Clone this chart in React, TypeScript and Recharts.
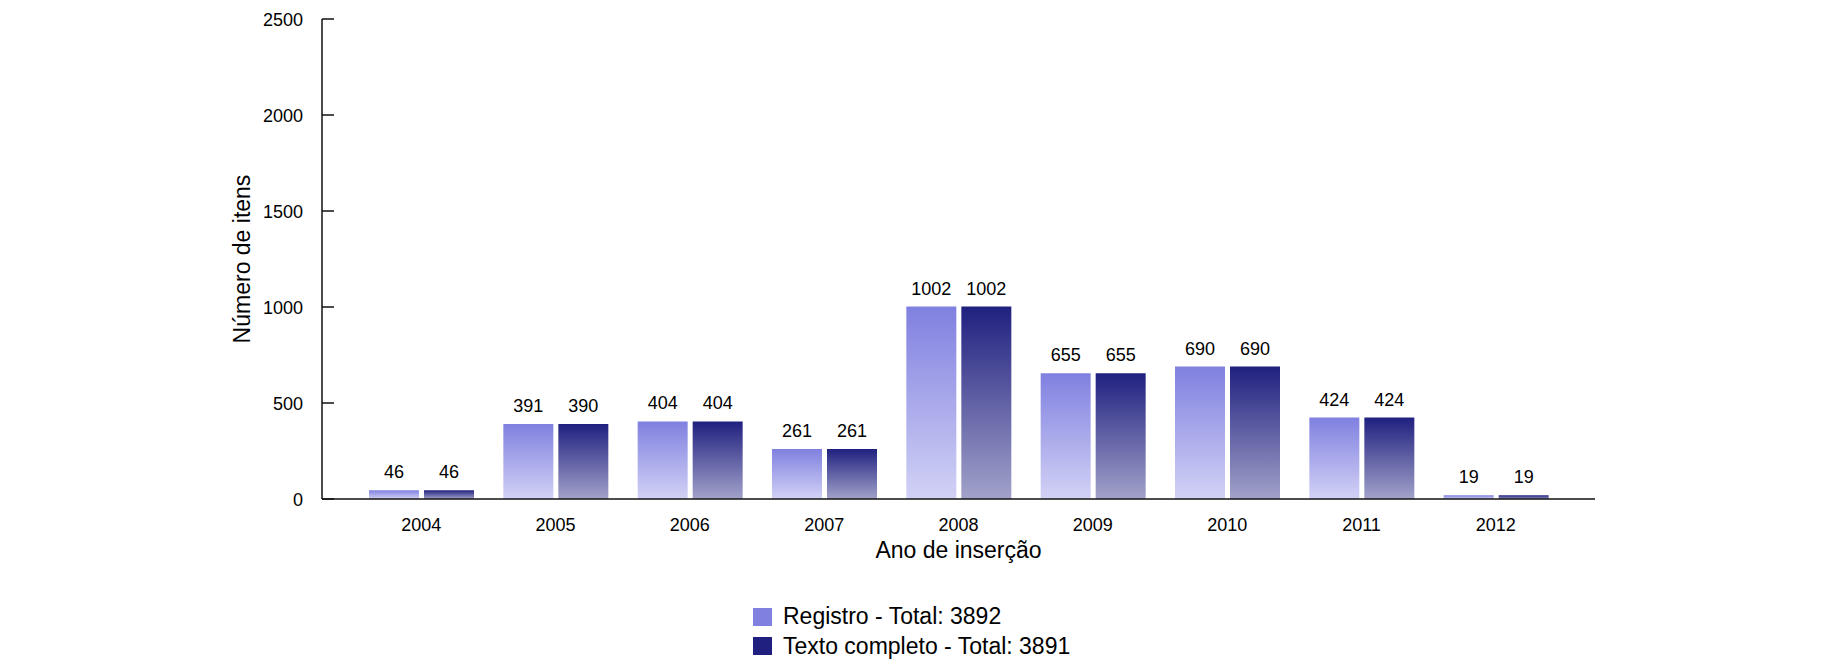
// Itens por ano de inserção — two gradient bar series (registro vs texto completo), gnuplot-ish styling.
import { Bar, BarChart, LabelList, Legend, XAxis, YAxis } from "recharts";

const YEARS = ["2004", "2005", "2006", "2007", "2008", "2009", "2010", "2011", "2012"];
const REGISTRO = [46, 391, 404, 261, 1002, 655, 690, 424, 19];
const TEXTO_COMPLETO = [46, 390, 404, 261, 1002, 655, 690, 424, 19];
const Y_TICKS = [0, 500, 1000, 1500, 2000, 2500];

const FONT = '"Liberation Sans", Arial, Helvetica, sans-serif';

const sum = (a: number[]) => a.reduce((s, v) => s + v, 0);

const SERIES = [
  { key: "registro", name: `Registro - Total: ${sum(REGISTRO)}`, top: "#8080e0", bottom: "#d2d2f6", swatch: "#8080e0" },
  { key: "texto", name: `Texto completo - Total: ${sum(TEXTO_COMPLETO)}`, top: "#202080", bottom: "#a2a2ca", swatch: "#202080" },
];

const data = YEARS.map((year, i) => ({ year, registro: REGISTRO[i], texto: TEXTO_COMPLETO[i] }));

function YTick({ x, y, payload }: any) {
  return (
    <g>
      <line x1={x} x2={x + 12} y1={y} y2={y} stroke="#111" strokeWidth={1.5} />
      <text x={x - 19} y={y + 7} textAnchor="end" fontSize={18} fontFamily={FONT} fill="#000">
        {payload.value}
      </text>
    </g>
  );
}

function XTick({ x, y, payload }: any) {
  return (
    <text x={x} y={y + 32} textAnchor="middle" fontSize={18} fontFamily={FONT} fill="#000">
      {payload.value}
    </text>
  );
}

function LegendBox() {
  return (
    <div style={{ fontFamily: FONT, fontSize: 23, color: "#000" }}>
      {SERIES.map((s) => (
        <div key={s.key} style={{ display: "flex", alignItems: "center", height: 29.5 }}>
          <span style={{ display: "inline-block", width: 19, height: 18, background: s.swatch, marginRight: 11 }} />
          <span style={{ lineHeight: "29.5px" }}>{s.name}</span>
        </div>
      ))}
    </div>
  );
}

export default function App() {
  return (
    <div style={{ position: "absolute", left: 0, top: 0, width: 1826, height: 671, background: "#fff" }}>
      <BarChart
        width={1826}
        height={671}
        data={data}
        margin={{ top: 19, right: 231, left: 0, bottom: 112 }}
        barCategoryGap={15}
        barGap={5}
      >
        <defs>
          {SERIES.map((s) => (
            <linearGradient key={s.key} id={`grad-${s.key}`} x1="0" y1="0" x2="0" y2="1">
              <stop offset="0%" stopColor={s.top} />
              <stop offset="100%" stopColor={s.bottom} />
            </linearGradient>
          ))}
        </defs>
        <XAxis
          dataKey="year"
          height={60}
          padding={{ left: 32, right: 32 }}
          tickLine={false}
          tickSize={0}
          tickMargin={0}
          tick={<XTick />}
          axisLine={{ stroke: "#111", strokeWidth: 1.5 }}
          label={({ viewBox }: any) => (
            <text
              x={viewBox.x + viewBox.width / 2}
              y={558}
              textAnchor="middle"
              fontSize={23}
              fontFamily={FONT}
              fill="#000"
            >
              Ano de inserção
            </text>
          )}
        />
        <YAxis
          width={322}
          domain={[0, 2500]}
          ticks={Y_TICKS}
          interval={0}
          tickLine={false}
          tickSize={0}
          tickMargin={0}
          tick={<YTick />}
          axisLine={{ stroke: "#111", strokeWidth: 1.5 }}
          label={({ viewBox }: any) => (
            <text
              transform={`translate(242, ${viewBox.y + viewBox.height / 2}) rotate(-90)`}
              textAnchor="middle"
              dominantBaseline="central"
              fontSize={23}
              fontFamily={FONT}
              fill="#000"
            >
              Número de itens
            </text>
          )}
        />
        <Legend
          layout="vertical"
          align="center"
          verticalAlign="middle"
          content={<LegendBox />}
          wrapperStyle={{ left: 753, top: 602, width: 400, height: 60 }}
        />
        {SERIES.map((s) => (
          <Bar key={s.key} dataKey={s.key} name={s.name} fill={`url(#grad-${s.key})`} isAnimationActive={false}>
            <LabelList dataKey={s.key} position="top" offset={12} fontSize={18} fontFamily={FONT} fill="#000" />
          </Bar>
        ))}
      </BarChart>
    </div>
  );
}
